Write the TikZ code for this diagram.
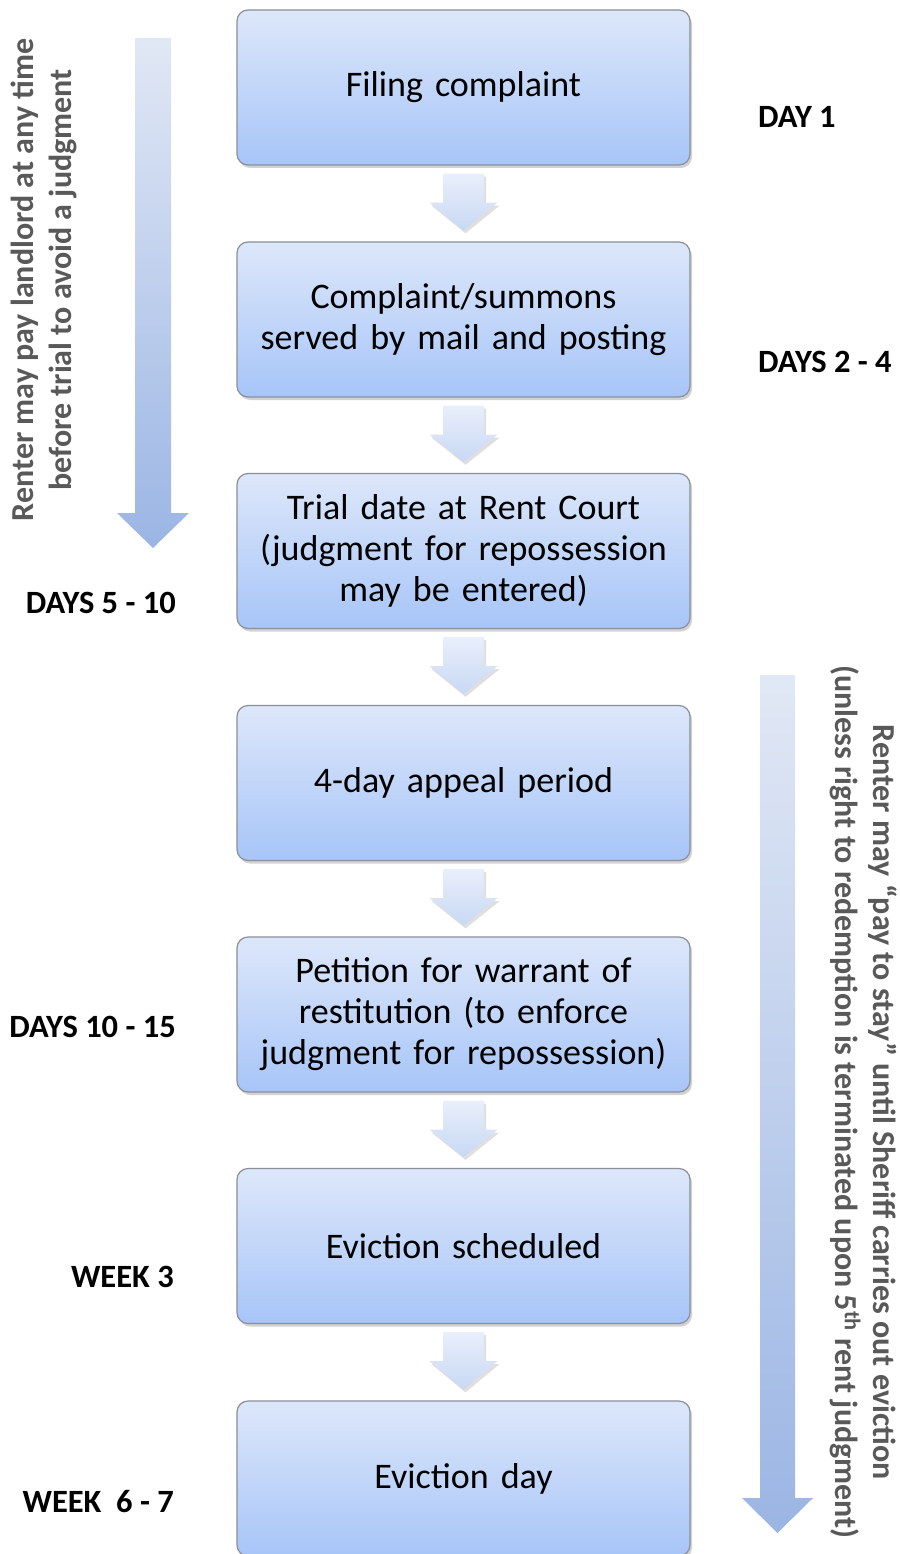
\documentclass[tikz,border=0pt]{standalone}
\usepackage{fontspec}
\setmainfont{Carlito}
\usetikzlibrary{shadows,calc}
\definecolor{boxtop}{HTML}{DDE7FA}
\definecolor{boxbot}{HTML}{A7C5F8}
\definecolor{boxline}{HTML}{8A8F99}
\definecolor{arrtop}{HTML}{E9EFFB}
\definecolor{arrbot}{HTML}{C8D8F5}
\definecolor{bigtop}{HTML}{E1E8F5}
\definecolor{bigbot}{HTML}{9BB5E4}
\definecolor{sidetext}{HTML}{595959}
\tikzset{
  stepbox/.style={draw=boxline, line width=1.2pt, rounded corners=11pt,
    top color=boxtop, bottom color=boxbot,
    minimum width=453pt, minimum height=155pt, text width=445pt, align=center,
    font=\fontsize{36}{41}\selectfont,
    drop shadow={shadow xshift=2pt, shadow yshift=-3pt, opacity=0.35}},
  flowarrow/.style={top color=arrtop, bottom color=arrbot, draw=none,
    drop shadow={shadow xshift=2pt, shadow yshift=-3pt, opacity=0.25}},
  bigarrow/.style={top color=bigtop, bottom color=bigbot, draw=none},
  daylbl/.style={font=\bfseries\fontsize{32.5}{36}\selectfont, inner sep=0pt},
  sidelbl/.style={font=\bfseries\fontsize{32}{38}\selectfont, text=sidetext, align=center, inner sep=0pt},
}
\begin{document}
\begin{tikzpicture}[x=1pt,y=-1pt]
\useasboundingbox (0,0) rectangle (899,1554);
\fill[white] (0,0) rectangle (899,1554);
% big side arrows
\path[bigarrow] (135,38) -- (171,38) -- (171,513) -- (189,513) -- (153,548) -- (117,513) -- (135,513) -- cycle;
\path[bigarrow] (760,675) -- (795,675) -- (795,1498) -- (813,1498) -- (777.5,1533) -- (742,1498) -- (760,1498) -- cycle;
% boxes
\node[stepbox] (b1) at (463.5,87.5) {Filing complaint};
\node[stepbox] (b2) at (463.5,319.5) {Complaint/summons\\served by mail and posting};
\node[stepbox] (b3) at (463.5,551) {Trial date at Rent Court\\(judgment for repossession\\may be entered)};
\node[stepbox] (b4) at (463.5,783) {4-day appeal period};
\node[stepbox] (b5) at (463.5,1014.5) {Petition for warrant of\\restitution (to enforce\\judgment for repossession)};
\node[stepbox] (b6) at (463.5,1246) {Eviction scheduled};
\node[stepbox] (b7) at (463.5,1478.5) {Eviction day};
% flow arrows
\foreach \a/\b in {b1/b2,b2/b3,b3/b4,b4/b5,b5/b6,b6/b7}{
  \path[flowarrow] ($(\a.south)+(-20.5,8)$) -- ($(\a.south)+(20.5,8)$) -- ($(\a.south)+(20.5,37)$)
    -- ($(\a.south)+(34,37)$) -- ($(\b.north)+(0,-11)$) -- ($(\a.south)+(-34,37)$)
    -- ($(\a.south)+(-20.5,37)$) -- cycle;
}
% day labels
\node[daylbl, anchor=west] (d1) at (758,117) {DAY 1};
\node[daylbl, anchor=west] (d2) at (758,362) {DAYS 2 - 4};
\node[daylbl, anchor=east] (d3) at (176,603) {DAYS 5 - 10};
\node[daylbl, anchor=east] (d4) at (176,1027) {DAYS 10 - 15};
\node[daylbl, anchor=east] (d5) at (174,1277) {WEEK 3};
\node[daylbl, anchor=east] (d6) at (174,1502) {WEEK\ \ 6 - 7};
% side labels
\node[sidelbl, rotate=90] (sl) at (44,280) {Renter may pay landlord at any time\\before trial to avoid a judgment};
\node[sidelbl, rotate=-90] (sr) at (864,1102) {Renter may “pay to stay” until Sheriff carries out eviction\\(unless right to redemption is terminated upon 5\textsuperscript{th} rent judgment)};
\end{tikzpicture}
\end{document}
